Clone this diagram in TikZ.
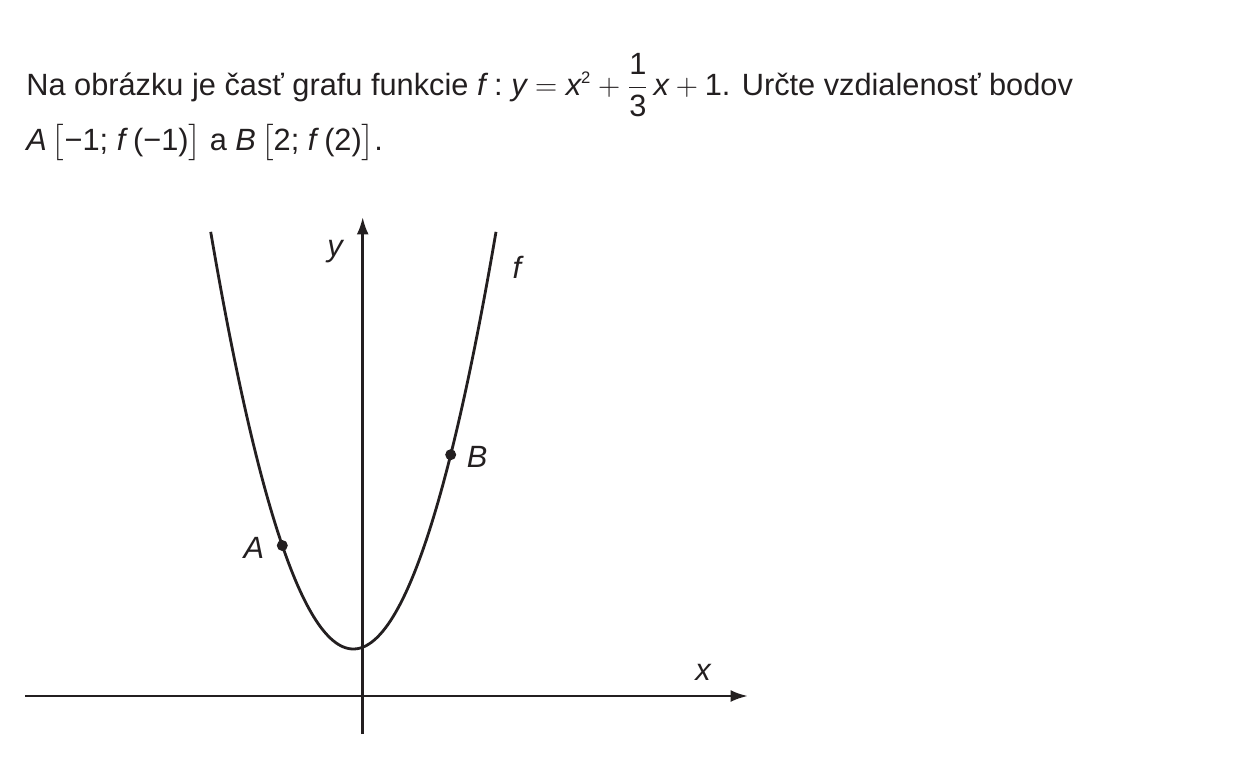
\RequirePackage{fix-cm}
\documentclass[tikz,border=0pt]{standalone}
\usepackage{exscale}
\usepackage{fontspec}
\setmainfont{Liberation Sans}
\usetikzlibrary{arrows.meta,positioning}
\definecolor{Ink}{HTML}{231F20}
\newcommand\vr[1]{\textit{#1}}

\begin{document}
\begin{tikzpicture}[
  x=0.02cm, y=-0.02cm,
  font=\fontsize{17.5}{21}\selectfont,
  axis/.style={draw=Ink, line width=1.5pt, -{Latex[length=3.5mm, width=2.4mm]}},
  curve/.style={draw=Ink, line width=1.6pt},
  dot/.style={circle, fill=Ink, inner sep=0pt, minimum size=0.22cm},
  lbl/.style={inner sep=0pt, text=Ink, font=\fontsize{17.5}{21}\selectfont\itshape},
  txt/.style={inner sep=0pt, anchor=base west, text=Ink}
]
\useasboundingbox (0,0) rectangle (1250,777);

% task text
\node[txt] (line1) at (26,95) {Na obrázku je časť grafu funkcie $\vr{f}\;\mbox{:}\;\vr{y}=\vr{x}^{\mbox{\fontsize{9.5}{9.5}\selectfont 2}}+{\displaystyle\frac{\mbox{1}}{\mbox{3}}}\,\vr{x}+\mbox{1}$. Určte vzdialenosť bodov};
\node[txt] (line2) at (26,150) {\vr{A}\,$\bigl[$−1; \vr{f}\,(−1)$\bigr]$ a \vr{B}\,$\bigl[$2; \vr{f}\,(2)$\bigr]$.};

% axes
\coordinate (xs) at (25,696);
\coordinate (xe) at (748,696);
\coordinate (ys) at (362.7,734);
\coordinate (ye) at (362.7,217);
\draw[axis] (xs) -- (xe);
\draw[axis] (ys) -- (ye);
\node[lbl] (xl) at (703,672) {x};
\node[lbl] (yl) at (335,252) {y};

% parabola
\draw[curve] plot[domain=-142.65:142.65, samples=120] ({353.35+\x}, {649-(0.14318*\x)^2});
\node[lbl] (fl) at (517,267) {f};

% points
\node[dot] (A) at (282.3,545.5) {};
\node[dot] (B) at (450.7,454.7) {};
\node[lbl] (Al) at (254,548) {A};
\node[lbl] (Bl) at (477,457) {B};
\end{tikzpicture}
\end{document}
